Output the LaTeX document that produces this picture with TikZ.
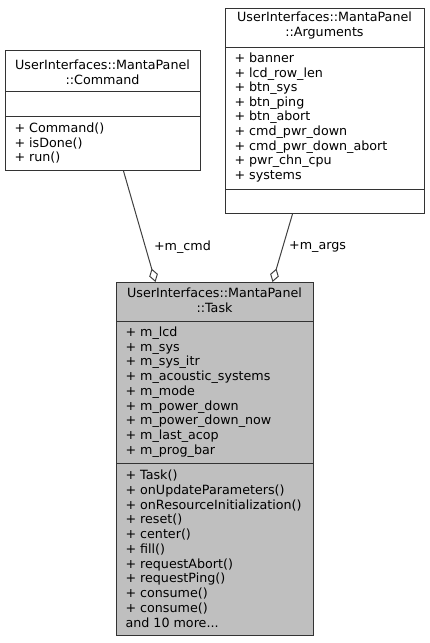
\documentclass[tikz,border=0pt]{standalone}
\usepackage{fontspec}
\setmainfont{DejaVu Sans}
\usetikzlibrary{arrows.meta}
\tikzset{every path/.style={line width=1pt}}
\tikzset{
  classbox/.style={draw=black!80, inner sep=0pt, anchor=north west},
  member/.style={anchor=base west, inner sep=0pt, font=\fontsize{12.7}{14.7}\selectfont},
  title/.style={anchor=base, inner sep=0pt, font=\fontsize{12.7}{14.7}\selectfont},
  agg/.style={draw=black!75, {Diamond[open, length=14pt, width=9pt]}-},
}

\begin{document}
\begin{tikzpicture}[x=1pt, y=-1pt]
    \useasboundingbox (0,0) rectangle (429,643);

    % class boxes
    \node[classbox, minimum width=195pt, minimum height=120pt] (cmd) at (5,50) {};
    \node[classbox, minimum width=199pt, minimum height=205pt] (args) at (225,8) {};
    \node[classbox, fill=black!25, minimum width=197pt, minimum height=353pt] (task) at (116,282) {};

    \draw[black!80] (5,91) -- (200,91);
    \draw[black!80] (5,116) -- (200,116);
    \draw[black!80] (225,47) -- (424,47);
    \draw[black!80] (225,189) -- (424,189);
    \draw[black!80] (116,321) -- (313,321);
    \draw[black!80] (116,463) -- (313,463);

    % titles
    \node[title] (cmdt1) at (102.5,69.5) {UserInterfaces::MantaPanel};
    \node[title] (cmdt2) at (102.5,84) {::Command};
    \node[title] (argst1) at (324.5,21.5) {UserInterfaces::MantaPanel};
    \node[title] (argst2) at (324.5,36) {::Arguments};
    \node[title] (taskt1) at (214.5,297.5) {UserInterfaces::MantaPanel};
    \node[title] (taskt2) at (214.5,312) {::Task};

    % members
    \foreach \txt [count=\i] in {+ Command(), + isDone(), + run()}
      \node[member] (cm\i) at (14,132.5+14.5*\i-14.5) {\txt};
    \foreach \txt [count=\i] in {+ banner, + lcd\_row\_len, + btn\_sys, + btn\_ping, + btn\_abort,
        + cmd\_pwr\_down, + cmd\_pwr\_down\_abort, + pwr\_chn\_cpu, + systems}
      \node[member] (aa\i) at (234,62.5+14.6*\i-14.6) {\txt};
    \foreach \txt [count=\i] in {+ m\_lcd, + m\_sys, + m\_sys\_itr, + m\_acoustic\_systems, + m\_mode,
        + m\_power\_down, + m\_power\_down\_now, + m\_last\_acop, + m\_prog\_bar}
      \node[member] (ta\i) at (125,336.5+14.7*\i-14.7) {\txt};
    \foreach \txt [count=\i] in {+ Task(), + onUpdateParameters(), + onResourceInitialization(),
        + reset(), + center(), + fill(), + requestAbort(), + requestPing(), + consume(),
        + consume()}
      \node[member] (tm\i) at (125,479.5+14.75*\i-14.75) {\txt};
    \node[member] (tm11) at (125,627) {and 10 more...};

    % aggregations
    \draw[agg] ([xshift=-59.5pt]task.north) -- node[pos=0.31, right=8pt, inner sep=0pt,
      font=\fontsize{12.7}{14.7}\selectfont] (lcmd) {+m\_cmd} ([xshift=20.5pt]cmd.south);
    \draw[agg] ([xshift=57.5pt]task.north) -- node[pos=0.51, right=6pt, inner sep=0pt,
      font=\fontsize{12.7}{14.7}\selectfont] (largs) {+m\_args} ([xshift=-32.5pt]args.south);
\end{tikzpicture}
\end{document}
